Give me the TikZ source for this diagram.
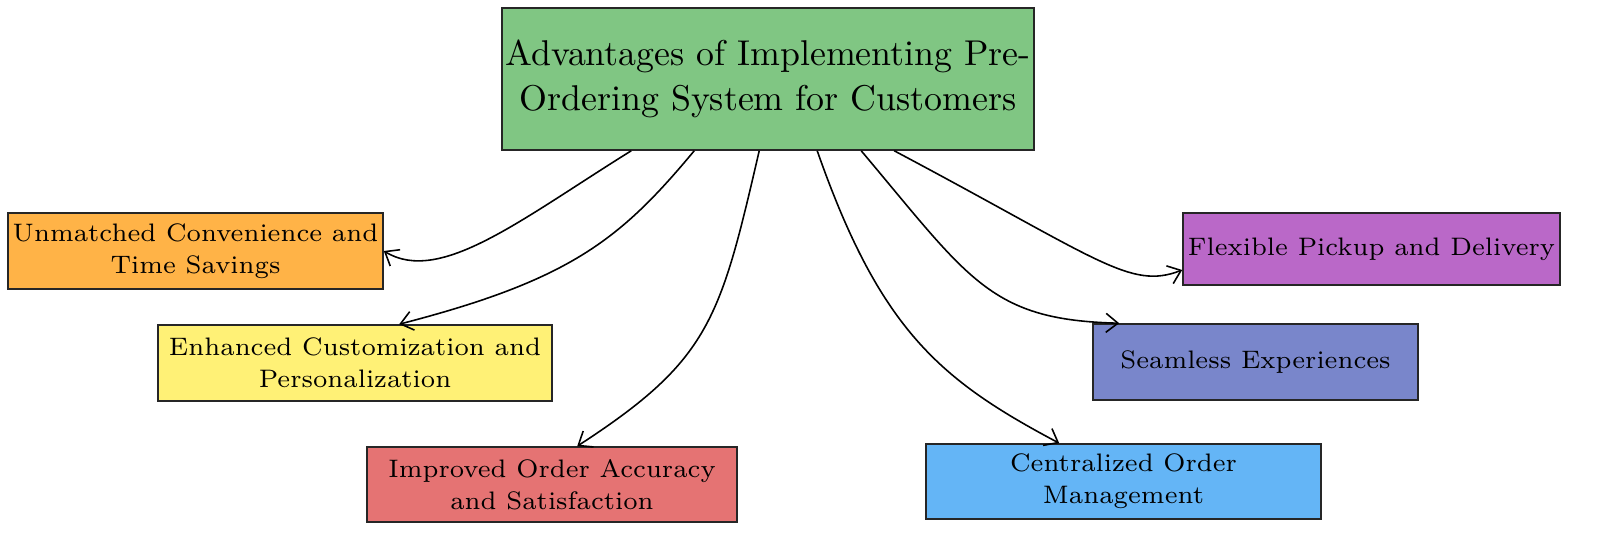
\documentclass[tikz,border=0pt]{standalone}
\usetikzlibrary{arrows.meta}
\definecolor{cgreen}{HTML}{80C683}
\definecolor{corange}{HTML}{FFB347}
\definecolor{cyellow}{HTML}{FFF176}
\definecolor{cred}{HTML}{E57373}
\definecolor{cblue}{HTML}{64B5F6}
\definecolor{cindigo}{HTML}{7986CB}
\definecolor{cpurple}{HTML}{BA68C8}
\tikzset{
  box/.style={draw=black!85, line width=0.45pt, align=center, inner sep=0pt, font=\fontsize{7.2}{9}\selectfont},
  link/.style={line width=0.45pt, -{Straight Barb[length=1.2mm,width=1.9mm]}}
}
\begin{document}
\begin{tikzpicture}
\useasboundingbox (0,0) rectangle (16,-5.41);

\node[box, fill=cgreen, minimum width=5.32cm, minimum height=1.42cm, font=\fontsize{10.2}{13}\selectfont] (title) at (7.68,-0.79) {Advantages of Implementing Pre-\\Ordering System for Customers};

\node[box, fill=corange, minimum width=3.75cm, minimum height=0.76cm] (conv) at (1.955,-2.51) {Unmatched Convenience and\\Time Savings};
\node[box, fill=cyellow, minimum width=3.94cm, minimum height=0.76cm] (cust) at (3.55,-3.63) {Enhanced Customization and\\Personalization};
\node[box, fill=cred, minimum width=3.70cm, minimum height=0.75cm] (accu) at (5.52,-4.845) {Improved Order Accuracy\\and Satisfaction};
\node[box, fill=cblue, minimum width=3.95cm, minimum height=0.75cm] (cent) at (11.235,-4.815) {Centralized Order\\Management};
\node[box, fill=cindigo, minimum width=3.25cm, minimum height=0.76cm] (seam) at (12.555,-3.62) {Seamless Experiences};
\node[box, fill=cpurple, minimum width=3.77cm, minimum height=0.72cm] (flex) at (13.715,-2.49) {Flexible Pickup and Delivery};

% connectors from the title
\draw[link] ([xshift=1.30cm]title.south west) .. controls (5.2,-2.2) and (4.4,-2.85) .. (conv.east);
\draw[link] ([xshift=1.93cm]title.south west) .. controls (6.2,-2.4) and (5.7,-2.8) .. ([xshift=2.42cm]cust.north west);
\draw[link] ([xshift=2.58cm]title.south west) .. controls (7.2,-3.2) and (7.1,-3.6) .. ([xshift=2.11cm]accu.north west);
\draw[link] ([xshift=3.16cm]title.south west) .. controls (8.8,-3.3) and (9.4,-3.8) .. ([xshift=1.34cm]cent.north west);
\draw[link] ([xshift=3.60cm]title.south west) .. controls (9.7,-2.8) and (9.9,-3.2) .. ([xshift=0.27cm]seam.north west);
\draw[link] ([xshift=3.93cm]title.south west) .. controls (11.0,-2.6) and (11.3,-2.9) .. ([yshift=-0.21cm]flex.west);
\end{tikzpicture}
\end{document}
